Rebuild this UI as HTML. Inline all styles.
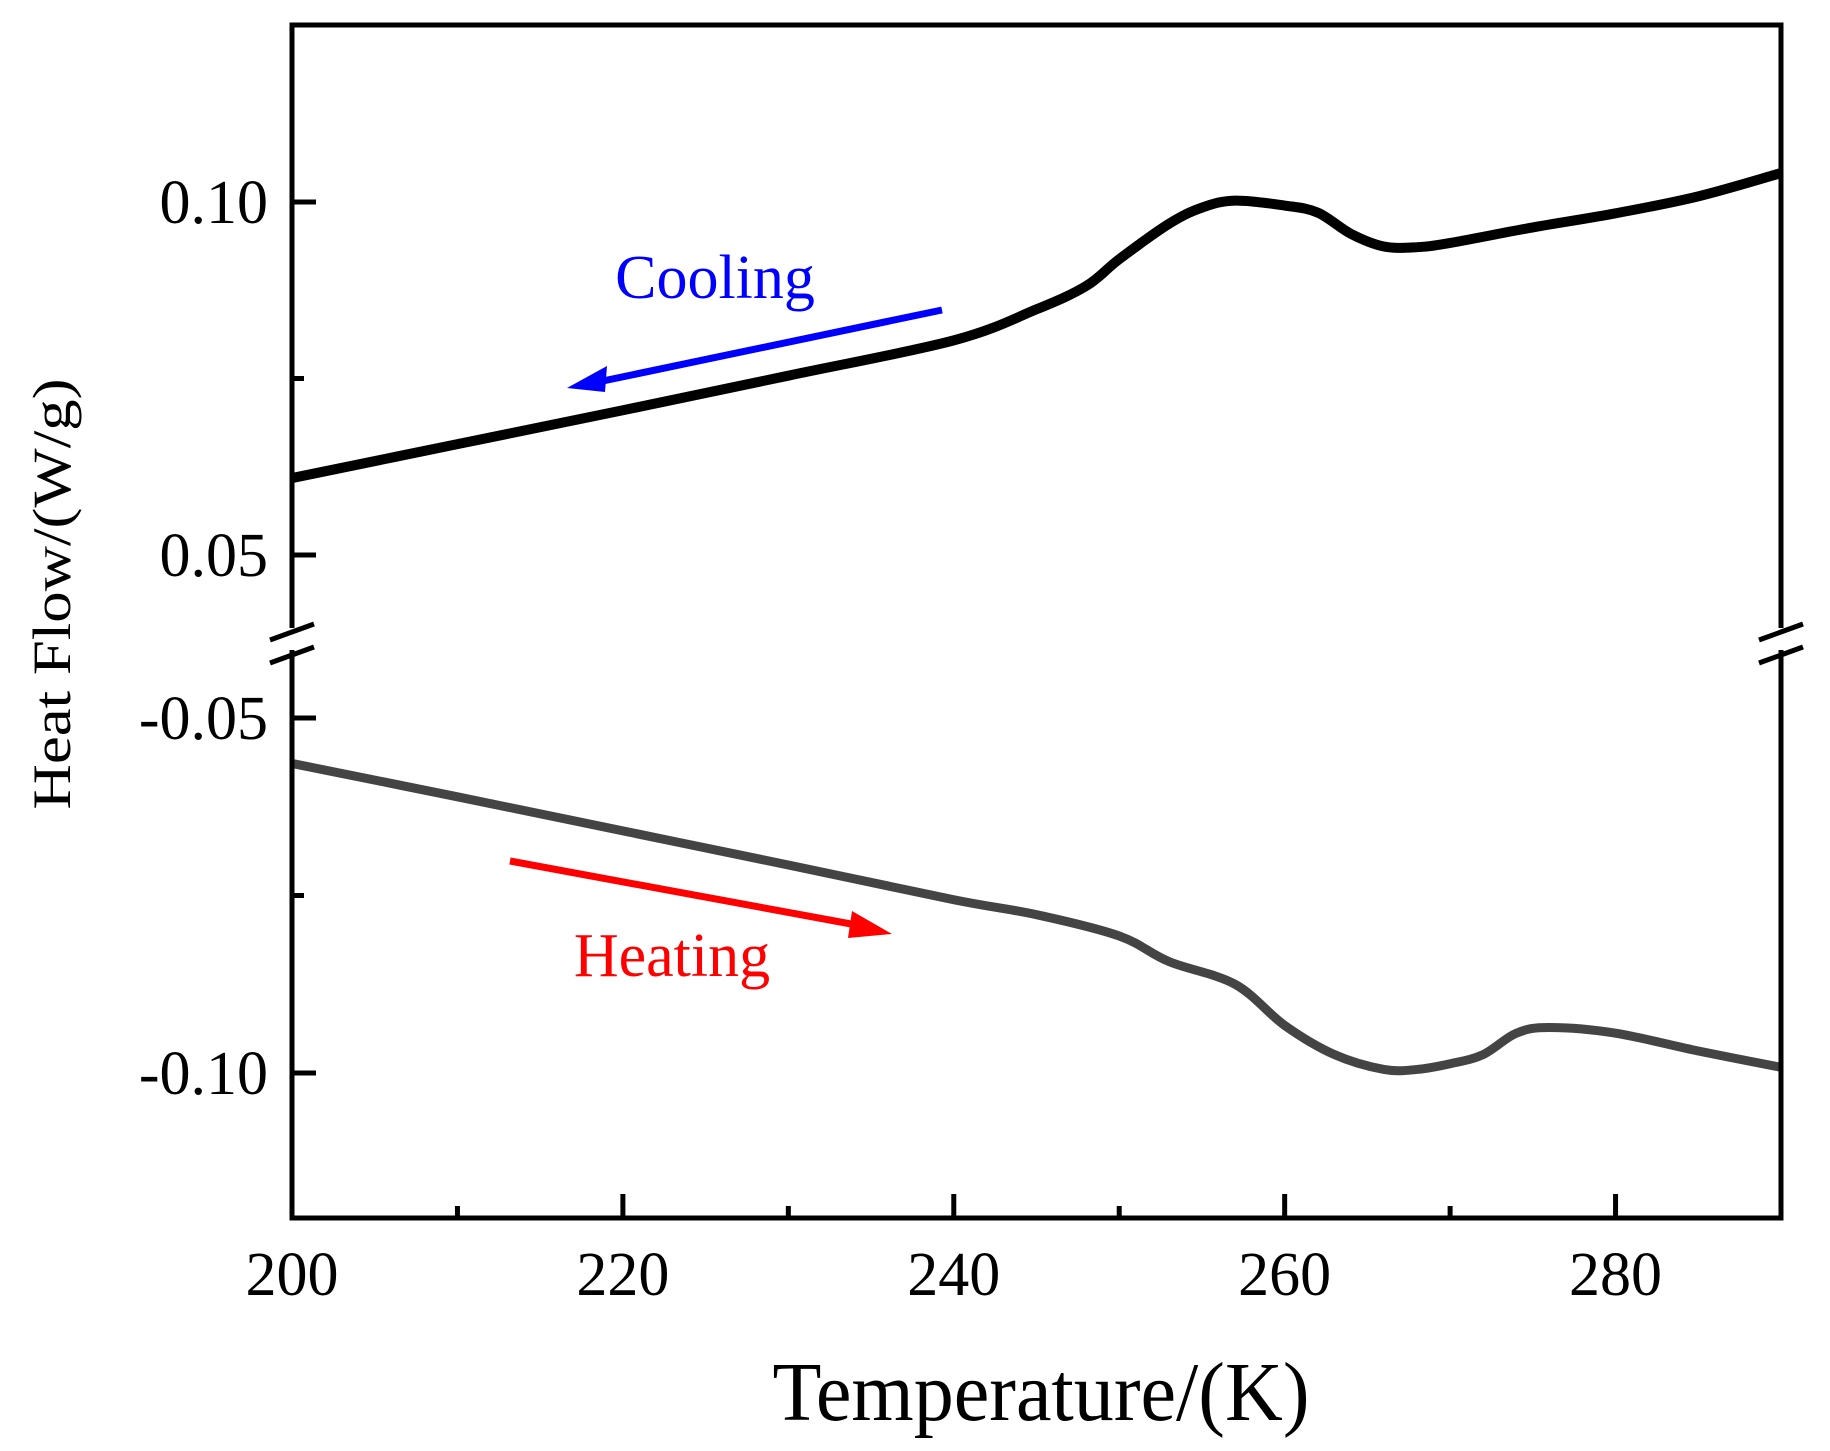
<!DOCTYPE html>
<html><head><meta charset="utf-8"><style>
html,body{margin:0;padding:0;background:#fff;}
svg{display:block;font-family:"Liberation Serif",serif;}
</style></head><body>
<svg id="chart" width="1830" height="1451" viewBox="0 0 1830 1451" xmlns="http://www.w3.org/2000/svg">
<g id="marks"></g>
<g id="axes"></g>
<text x="715" y="298" font-size="62" fill="#0000ff" text-anchor="middle">Cooling</text>
<text x="672" y="976" font-size="62" fill="#ff0000" text-anchor="middle">Heating</text>
<text x="1041" y="1420" font-size="84" text-anchor="middle" textLength="537" lengthAdjust="spacingAndGlyphs">Temperature/(K)</text>
<text x="0" y="0" font-size="54" text-anchor="middle" textLength="431" lengthAdjust="spacingAndGlyphs" transform="translate(70,594) rotate(-90)">Heat Flow/(W/g)</text>
<g>
<line x1="942" y1="310" x2="598" y2="382" stroke="#0000ff" stroke-width="7"/>
<polygon points="567,388 607,366 605,392" fill="#0000ff"/>
</g>
<g>
<line x1="510" y1="861" x2="862" y2="926" stroke="#ff0000" stroke-width="7"/>
<polygon points="892,934 852,911 848,938" fill="#ff0000"/>
</g>
</svg>
<script>
const temps = [200,210,220,230,240,245,248,250,253,255,257,260,262,264,266,268,270,275,280,285,290];
const cooling = [0.0609,0.0657,0.0705,0.0754,0.0804,0.0848,0.0881,0.0919,0.0969,0.0992,0.1002,0.0995,0.0985,0.0955,0.0937,0.0936,0.0942,0.0964,0.0984,0.1008,0.1041];
const heatTemps = [200,210,220,230,240,245,250,253,257,260,263,266,268,270,272,274,276,280,285,290];
const heating = [-0.0564,-0.0611,-0.0659,-0.0707,-0.0756,-0.0777,-0.0807,-0.0843,-0.0875,-0.0933,-0.0974,-0.0995,-0.0995,-0.0987,-0.0974,-0.0944,-0.0936,-0.0944,-0.0969,-0.0992];
const xTicks = [200,220,240,260,280];
const xMinor = [210,230,250,270];
const yTicksUpper = [0.05,0.10];
const yTicksLower = [-0.10,-0.05];
const yMinor = [0.075,-0.075];

const L=292,R=1781,T=25,B=1218;
function xs(t){return L+(t-200)*(R-L)/90;}
function ys(v){ if(v>0) return 202+(0.10-v)*7060; return 718+(-0.05-v)*7100; }
const NS="http://www.w3.org/2000/svg";
const marks=document.getElementById('marks'), axes=document.getElementById('axes');
function mk(tag,attrs,parent){const e=document.createElementNS(NS,tag);for(const k in attrs)e.setAttribute(k,attrs[k]);parent.appendChild(e);return e;}
function smooth(pts){let d="M"+pts[0][0]+","+pts[0][1];for(let i=0;i<pts.length-1;i++){const p0=pts[i-1]||pts[i],p1=pts[i],p2=pts[i+1],p3=pts[i+2]||p2;const c1x=p1[0]+(p2[0]-p0[0])/6,c1y=p1[1]+(p2[1]-p0[1])/6,c2x=p2[0]-(p3[0]-p1[0])/6,c2y=p2[1]-(p3[1]-p1[1])/6;d+=` C${c1x},${c1y} ${c2x},${c2y} ${p2[0]},${p2[1]}`;}return d;}
const coolPath=mk('path',{d:smooth(temps.map((t,i)=>[xs(t),ys(cooling[i])])),fill:'none',stroke:'#000','stroke-width':10,'stroke-linejoin':'round'},marks);


const heatPath=mk('path',{d:smooth(heatTemps.map((t,i)=>[xs(t),ys(heating[i])])),fill:'none',stroke:'#444','stroke-width':9,'stroke-linejoin':'round'},marks);



const sw=5;
const topAxis=mk('line',{x1:L,y1:T,x2:R,y2:T,stroke:'#000','stroke-width':sw,'stroke-linecap':'square'},axes);


const botAxis=mk('line',{x1:L,y1:B,x2:R,y2:B,stroke:'#000','stroke-width':sw,'stroke-linecap':'square'},axes);


[L,R].forEach(x=>{
 const a=mk('line',{x1:x,y1:T,x2:x,y2:628,stroke:'#000','stroke-width':sw},axes);
 
 
 const b=mk('line',{x1:x,y1:650,x2:x,y2:B,stroke:'#000','stroke-width':sw},axes);
 
 
 [632,655].forEach(y=>{
  const s=mk('line',{x1:x-22,y1:y+8,x2:x+22,y2:y-8,stroke:'#000','stroke-width':5},axes);
  
  
 });
});
xTicks.forEach(t=>{
 const l=mk('line',{x1:xs(t),y1:B,x2:xs(t),y2:B-24,stroke:'#000','stroke-width':5},axes);
 
 
 const tx=mk('text',{x:xs(t),y:1295,'font-size':62,'text-anchor':'middle'},axes);
 tx.textContent=t;
 
 
});
xMinor.forEach(t=>{
 const l=mk('line',{x1:xs(t),y1:B,x2:xs(t),y2:B-12,stroke:'#000','stroke-width':5},axes);
 
 
});
yTicksUpper.concat(yTicksLower).forEach(v=>{
 const l=mk('line',{x1:L,y1:ys(v),x2:L+24,y2:ys(v),stroke:'#000','stroke-width':5},axes);
 
 
 const tx=mk('text',{x:268,y:ys(v)+21,'font-size':62,'text-anchor':'end'},axes);
 tx.textContent=v.toFixed(2);
 
 
});
yMinor.forEach(v=>{
 const l=mk('line',{x1:L,y1:ys(v),x2:L+12,y2:ys(v),stroke:'#000','stroke-width':5},axes);
 
 
});
</script>
</body></html>
